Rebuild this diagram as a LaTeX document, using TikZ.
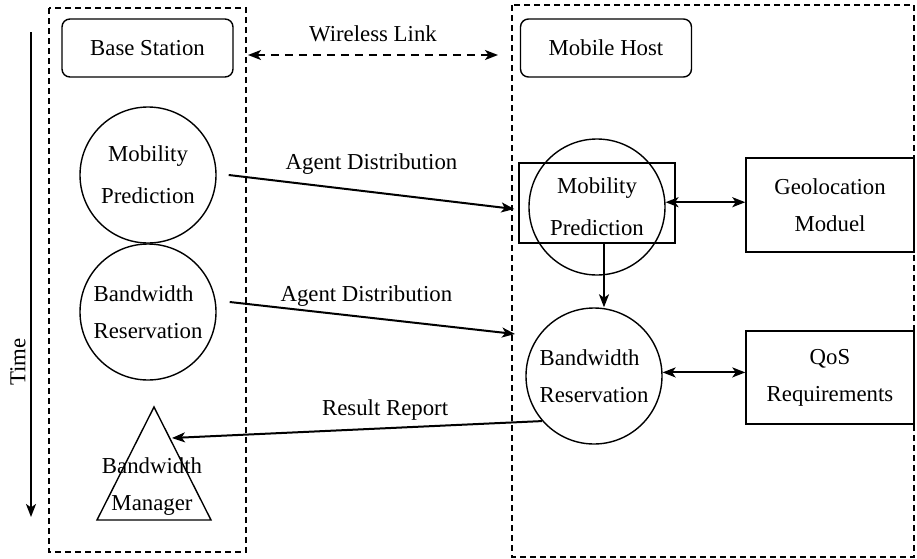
\documentclass[tikz,border=0pt]{standalone}
\usepackage{fontspec}
\setmainfont{Liberation Serif}
\usetikzlibrary{arrows.meta}
\begin{document}
\begin{tikzpicture}[x=0.5pt, y=-0.5pt,
                    line width=0.7pt,
                    font=\fontsize{11.4}{18.5}\selectfont,
                    >={Stealth[length=6.5pt,width=5pt,inset=1.7pt]},
                    ]
    \tikzstyle{side}=[draw, line width=0.65pt, dash pattern=on 3pt off 2pt]
    \tikzstyle{title}=[draw, rounded corners=4pt, minimum width=85.5pt, minimum height=29pt]
    \tikzstyle{agent}=[draw, circle, minimum size=68pt, inner sep=0pt, align=center]
    \tikzstyle{agentMP}=[agent, font=\fontsize{11.4}{21}\selectfont]
    \tikzstyle{agentBR}=[agent, align=left]
    \tikzstyle{module}=[draw, minimum width=84pt, minimum height=47pt, align=center]
    \tikzstyle{msg}=[line width=1pt, ->]

    \useasboundingbox (0,0) rectangle (917,558);

    % base station side and mobile host side
    \draw[side] (49,8) rectangle (246,552);
    \draw[side] (512,5) rectangle (914,557);

    \node[title] (bs) at (147.5,48) {Base Station};
    \node[title] (mh) at (606,48) {Mobile Host};
    \coordinate (wlL) at (248,55);
    \coordinate (wlR) at (498,55);
    \path[draw, line width=0.9pt, dash pattern=on 4pt off 3pt, <->] (wlL) -- node[above=3pt] (wl) {Wireless Link} (wlR);

    % time axis
    \coordinate (t0) at (31,32);
    \coordinate (t1) at (31,517);
    \path[draw, msg] (t0) -- (t1);
    \node[rotate=90] (time) at (18,362) {Time};

    % agents at the base station
    \node[agentMP] (mpB) at (148,175) {Mobility\\Prediction};
    \node[agentBR] (brB) at (148,312) {Bandwidth\\Reservation};
    \coordinate (bmTop) at (154,407);
    \coordinate (bmR) at (211,520);
    \coordinate (bmL) at (97,520);
    \draw (bmTop) -- (bmR) -- (bmL) -- cycle;
    \node[align=center] (bm) at (152,487) {Bandwidth\\Manager};
    \coordinate (bmHit) at (172,438);

    % agents at the mobile host
    \node[agentMP] (mpM) at (597,207) {Mobility\\Prediction};
    \node[draw, minimum width=78pt, minimum height=40pt] (mpBox) at (597,203) {};
    \node[agentBR] (brM) at (594,376) {Bandwidth\\Reservation};
    \node[module] (geo) at (830,205) {Geolocation\\Moduel};
    \node[module, minimum height=46.5pt] (qos) at (830,377.5) {QoS\\Requirements};
    \coordinate (ad2End) at (515,334);

    \path[draw, msg] ([xshift=6pt]mpB.east) -- node[above=5pt] (ad1) {Agent Distribution} ([xshift=-2pt,yshift=-3pt]mpBox.west);
    \path[draw, msg] ([shift={(6.5pt,5pt)}]brB.east) -- node[above=2pt, xshift=-3pt] (ad2) {Agent Distribution} (ad2End);
    \path[draw, msg] (brM.221) -- node[above=1pt, xshift=14pt] (rr) {Result Report} (bmHit);
    \path[draw, msg] ([xshift=3.5pt]mpBox.south) -- ([xshift=3.5pt]mpBox.south |- brM.north);
    \path[draw, msg, <->] (mpM.4) -- (mpM.4 -| geo.west);
    \path[draw, msg, <->] (brM.3) -- (brM.3 -| qos.west);
\end{tikzpicture}
\end{document}
